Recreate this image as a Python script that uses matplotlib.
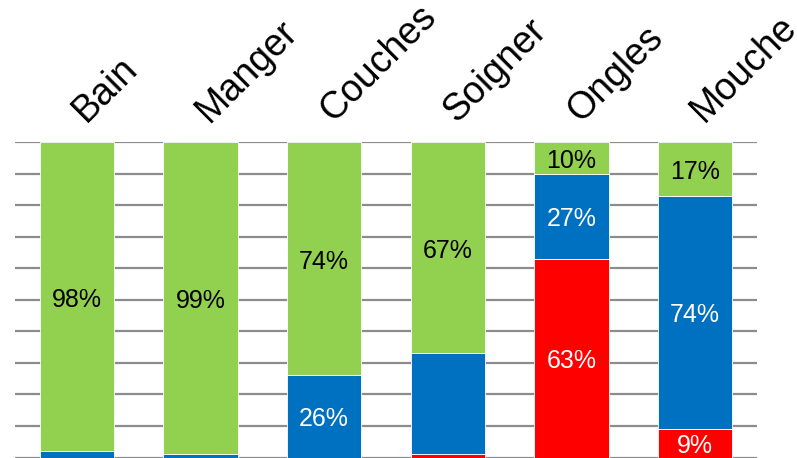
import matplotlib
matplotlib.use("Agg")
import matplotlib.pyplot as plt
import numpy as np

categories = ['Bain', 'Manger', 'Couches', 'Soigner', 'Ongles', 'Mouche']
red_vals = [0, 0, 0, 1, 63, 9]
blue_vals = [2, 1, 26, 32, 27, 74]
green_vals = [98, 99, 74, 67, 10, 17]
# segments whose value label is shown in the original chart
blue_labelled = [False, False, True, False, True, True]

plt.rcParams['font.family'] = ['Liberation Sans', 'DejaVu Sans']

fig = plt.figure(figsize=(7.97, 4.58), dpi=100)
ax = fig.add_axes([15/797, 0.5/458, (757-15)/797, (457.5-142)/458])

x = np.arange(len(categories))
w = 0.6
series = [(red_vals, '#FF0000', 'white', [v >= 5 for v in red_vals]),
          (blue_vals, '#0070C0', 'white', blue_labelled),
          (green_vals, '#92D050', 'black', [v >= 5 for v in green_vals])]
bottom = np.zeros(len(categories))
for vals, col, tcol, show in series:
    vals = np.array(vals, dtype=float)
    ax.bar(x, vals, w, bottom=bottom, color=col, edgecolor='white',
           linewidth=0.6, zorder=3)
    for xi, b, v, s in zip(x, bottom, vals, show):
        if s:
            ax.annotate(f"{int(v)}%", xy=(xi, b + v/2), xytext=(0, -3),
                        textcoords='offset pixels', ha='center', va='center',
                        fontsize=18, color=tcol, zorder=4)
    bottom += vals

ax.set_xlim(-0.5, 5.5)
ax.set_ylim(0, 100)
ax.set_yticks(np.arange(0, 101, 10))
ax.yaxis.grid(True, color='#8C8C8C', linewidth=1.6, zorder=0)
ax.set_axisbelow(True)
ax.tick_params(left=False, bottom=False, labelleft=False, labelbottom=False)
for s in ax.spines.values():
    s.set_visible(False)

for xi, c in zip(x, categories):
    ax.annotate(c, xy=(xi, 100), xycoords='data', xytext=(9, 19),
                textcoords='offset pixels', rotation=45, rotation_mode='anchor',
                ha='left', va='baseline', fontsize=27, annotation_clip=False)

fig.savefig('out.png', dpi=100)
